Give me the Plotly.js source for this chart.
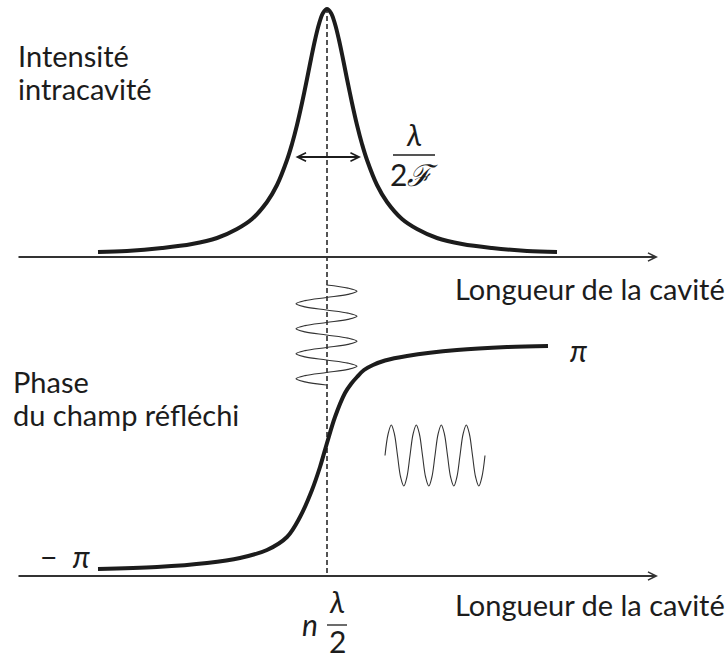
<!DOCTYPE html>
<html><head><meta charset="utf-8">
<script src="https://cdn.plot.ly/plotly-3.0.1.min.js"></script>
<style>html,body{margin:0;padding:0;background:#fff}</style>
</head><body><div id="chart" style="width:727px;height:662px"></div>
<script>
// Schematic drawn in a page-like coordinate frame (x to the right, y downward)
const intensityX = [98, 127, 162, 192, 217, 237, 252, 267, 277, 287, 292, 297, 302, 307, 311, 315, 319, 323, 327, 331, 335, 339, 343, 347, 352, 357, 362, 367, 377, 387, 402, 417, 437, 462, 492, 527, 557];
const intensityY = [252, 251, 248, 244, 238, 229, 219, 202, 185, 160, 144, 125, 103, 79, 59, 40, 24, 13, 9, 13, 24, 40, 59, 79, 103, 125, 144, 160, 185, 202, 219, 229, 238, 244, 248, 251, 252];

const phaseX = [98, 157, 207, 240, 267, 287, 300, 312, 320, 327, 335, 345, 351, 357, 364, 373, 385, 407, 457, 507, 548];
const phaseY = [569, 567, 563, 558, 550, 537, 517, 490, 467, 443, 417, 393, 384, 377, 370, 365, 360.5, 356, 350, 347, 346];

// reflected-wave sketch (horizontal)
const waveHX = [385, 388.1, 391.3, 394.4, 397.5, 400.6, 403.8, 406.9, 410, 413.1, 416.3, 419.4, 422.5, 425.6, 428.8, 431.9, 435, 438.1, 441.3, 444.4, 447.5, 450.6, 453.8, 456.9, 460, 463.1, 466.3, 469.4, 472.5, 475.6, 478.8, 481.9, 485];
const waveHY = [455.5, 434, 425, 434, 455.5, 477, 486, 477, 455.5, 434, 425, 434, 455.5, 477, 486, 477, 455.5, 434, 425, 434, 455.5, 477, 486, 477, 455.5, 434, 425, 434, 455.5, 477, 486, 477, 455.5];

// incident-wave sketch (vertical)
const waveVY = [285, 288.1, 291.3, 294.4, 297.5, 300.6, 303.8, 306.9, 310, 313.1, 316.3, 319.4, 322.5, 325.6, 328.8, 331.9, 335, 338.1, 341.3, 344.4, 347.5, 350.6, 353.8, 356.9, 360, 363.1, 366.3, 369.4, 372.5, 375.6, 378.8, 381.9, 385];
const waveVX = [326.5, 348, 357, 348, 326.5, 305, 296, 305, 326.5, 348, 357, 348, 326.5, 305, 296, 305, 326.5, 348, 357, 348, 326.5, 305, 296, 305, 326.5, 348, 357, 348, 326.5, 305, 296, 305, 326.5];

const resonanceX = [327, 327];
const resonanceY = [8, 577];

const axisLabel = "Longueur de la cavité";
const topLabel = ["Intensité", "intracavité"];
const bottomLabel = ["Phase", "du champ réfléchi"];

const FONT = "Lato, sans-serif";
const INK = '#1c1c1c';

const traces = [
  {x: resonanceX, y: resonanceY, mode: 'lines', line: {color: INK, width: 1.5, dash: '5px,3px'}},
  {x: intensityX, y: intensityY, mode: 'lines', line: {color: INK, width: 4, shape: 'spline', smoothing: 1}},
  {x: phaseX, y: phaseY, mode: 'lines', line: {color: INK, width: 4, shape: 'spline', smoothing: 1}},
  {x: waveHX, y: waveHY, mode: 'lines', line: {color: '#333', width: 1.1, shape: 'spline', smoothing: 1}},
  {x: waveVX, y: waveVY, mode: 'lines', line: {color: '#333', width: 1.1, shape: 'spline', smoothing: 1}}
];

function txt(x, y, text, xanchor, size, yanchor) {
  return {x: x, y: y, xref: 'x', yref: 'y', text: text, showarrow: false,
    xanchor: xanchor || 'left', yanchor: yanchor || 'middle',
    font: {family: FONT, size: size || 29, color: INK}};
}
function arrow(x0, x1, y) {
  return {x: x1, y: y, ax: x0, ay: y, xref: 'x', yref: 'y', axref: 'x', ayref: 'y',
    text: '', showarrow: true, arrowhead: 5, arrowsize: 0.9, arrowwidth: 1.8,
    arrowcolor: '#333', standoff: 0};
}

const annotations = [
  arrow(17, 658, 257),
  arrow(17, 658, 576),
  {x: 361, y: 157, ax: 294, ay: 157, xref: 'x', yref: 'y', axref: 'x', ayref: 'y',
   text: '', showarrow: true, arrowside: 'end+start', arrowhead: 5, startarrowhead: 5,
   arrowsize: 0.85, startarrowsize: 0.85, arrowwidth: 2, arrowcolor: INK, standoff: 0, startstandoff: 0},
  txt(16, 55, topLabel[0]),
  txt(16, 88, topLabel[1]),
  txt(11, 381, bottomLabel[0]),
  txt(11, 414, bottomLabel[1]),
  txt(453, 288, axisLabel),
  txt(453, 604, axisLabel),
  txt(414, 134, '<i>λ</i>', 'center', 30),
  txt(414, 174, '2<i>ℱ</i>', 'center', 30),
  txt(578, 350, '<i>π</i>', 'center', 30),
  txt(38, 556, '−  <i>π</i>', 'left', 30),
  txt(310, 624, '<i>n</i>', 'center', 30),
  txt(337, 601, '<i>λ</i>', 'center', 30),
  txt(337, 661, '2', 'center', 30, 'bottom')
];

const shapes = [
  {type: 'line', xref: 'x', yref: 'y', x0: 393, x1: 435, y0: 155, y1: 155, line: {color: INK, width: 1.3}},
  {type: 'line', xref: 'x', yref: 'y', x0: 327, x1: 347, y0: 625, y1: 625, line: {color: INK, width: 1.3}}
];

const layout = {
  width: 727, height: 662,
  margin: {l: 0, r: 0, t: 0, b: 0},
  paper_bgcolor: '#fff', plot_bgcolor: '#fff',
  showlegend: false,
  font: {family: FONT},
  xaxis: {range: [0, 727], visible: false, fixedrange: true},
  yaxis: {range: [662, 0], visible: false, fixedrange: true},
  annotations: annotations,
  shapes: shapes
};

Plotly.newPlot('chart', traces, layout, {staticPlot: true, displayModeBar: false});
</script>
</body></html>
